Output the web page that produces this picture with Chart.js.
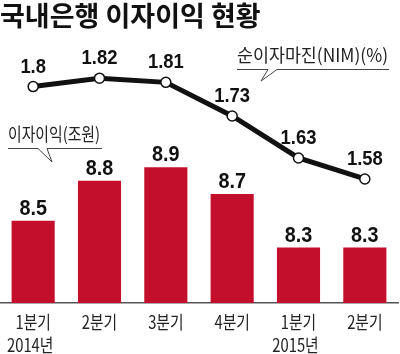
<!DOCTYPE html>
<html>
<head>
<meta charset="utf-8">
<script src="https://cdn.jsdelivr.net/npm/chart.js@4"></script>
<style>
  html, body { margin: 0; padding: 0; background: #fff; }
  #wrap { width: 400px; height: 354px; }
</style>
</head>
<body>
<div id="wrap"><canvas id="chart"></canvas></div>
<script>
// data
const quarters = ['1분기', '2분기', '3분기', '4분기', '1분기', '2분기'];
const years = ['2014년', '', '', '', '2015년', ''];
const interestIncome = [8.5, 8.8, 8.9, 8.7, 8.3, 8.3]; // 이자이익, 조원
const nim = [1.8, 1.82, 1.81, 1.73, 1.63, 1.58];        // 순이자마진, %

const KR = "'Noto Sans CJK KR', 'Noto Sans', sans-serif";
const NUM = "'Liberation Sans', Arial, sans-serif";

// squeezed text, the print font in the picture is a condensed one
function squeezeText(ctx, text, x, y, font, color, sx, align) {
  ctx.save();
  ctx.font = font;
  ctx.fillStyle = color;
  ctx.textAlign = align || 'center';
  ctx.textBaseline = 'alphabetic';
  ctx.translate(x, y);
  ctx.scale(sx, 1);
  ctx.fillText(text, 0, 0);
  ctx.restore();
}

function fitText(ctx, text, x, y, font, color, width) {
  ctx.save();
  ctx.font = font;
  const w = ctx.measureText(text).width;
  ctx.restore();
  squeezeText(ctx, text, x, y, font, color, width / w, 'left');
}

const valueLabels = {
  id: 'valueLabels',
  afterDatasetsDraw(chart) {
    const ctx = chart.ctx;
    chart.data.datasets.forEach((ds, di) => {
      const meta = chart.getDatasetMeta(di);
      meta.data.forEach((el, i) => {
        if (meta.type === 'bar') {
          squeezeText(ctx, String(ds.data[i]), el.x, el.y - 6, 'bold 22px ' + NUM, '#111', 0.9);
        } else {
          squeezeText(ctx, String(ds.data[i]), el.x, el.y - 14, 'bold 20px ' + NUM, '#111', 0.92);
        }
      });
    });
  }
};

const axisLabels = {
  id: 'axisLabels',
  afterDraw(chart) {
    const ctx = chart.ctx;
    const x = chart.scales.x;
    quarters.forEach((q, i) => {
      const px = x.getPixelForTick(i);
      squeezeText(ctx, q, px, 329, '18px ' + KR, '#222', 0.82);
      if (years[i]) squeezeText(ctx, years[i], px - 3, 352, '18px ' + KR, '#222', 0.82);
    });

    // callouts
    ctx.save();
    ctx.strokeStyle = '#444';
    ctx.lineWidth = 1;
    ctx.beginPath();
    ctx.moveTo(237, 69.5); ctx.lineTo(268, 69.5); ctx.lineTo(261, 81); ctx.lineTo(277, 69.5); ctx.lineTo(389, 69.5);
    ctx.moveTo(8, 148.5); ctx.lineTo(38, 148.5); ctx.lineTo(52, 162); ctx.lineTo(47, 148.5); ctx.lineTo(102, 148.5);
    ctx.stroke();
    ctx.restore();
    fitText(ctx, '순이자마진(NIM)(%)', 237, 62, '18px ' + KR, '#222', 151);
    fitText(ctx, '이자이익(조원)', 8, 141, '18px ' + KR, '#222', 92);
  }
};

new Chart(document.getElementById('chart'), {
  type: 'bar',
  data: {
    labels: quarters.map((q, i) => years[i] ? [q, years[i]] : q),
    datasets: [
      {
        type: 'line',
        label: '순이자마진(NIM)(%)',
        data: nim,
        yAxisID: 'y1',
        borderColor: '#111',
        borderWidth: 5,
        pointRadius: 5,
        pointBorderWidth: 1.5,
        pointBackgroundColor: '#fff',
        pointBorderColor: '#111',
        tension: 0,
        order: 0
      },
      {
        type: 'bar',
        label: '이자이익(조원)',
        data: interestIncome,
        yAxisID: 'y',
        backgroundColor: '#c40f2c',
        barPercentage: 0.65,
        categoryPercentage: 1,
        order: 1
      }
    ]
  },
  options: {
    responsive: true,
    maintainAspectRatio: false,
    animation: false,
    layout: { autoPadding: false, padding: { left: 0, right: 2, top: 0, bottom: 51 } },
    scales: {
      x: {
        grid: { display: false, drawTicks: false },
        ticks: { display: false },
        border: { display: true, color: '#555', width: 1.5 }
      },
      y: { display: false, min: 7.886, max: 9.856 },
      y1: { display: false, min: 1.2847, max: 1.9123 }
    },
    plugins: {
      legend: { display: false },
      tooltip: { enabled: false },
      title: {
        display: true,
        text: '국내은행 이자이익 현황',
        align: 'start',
        color: '#111',
        font: { family: KR, size: 27, weight: 'bold' },
        padding: { top: 0, bottom: 7 }
      }
    }
  },
  plugins: [valueLabels, axisLabels]
});
</script>
</body>
</html>
